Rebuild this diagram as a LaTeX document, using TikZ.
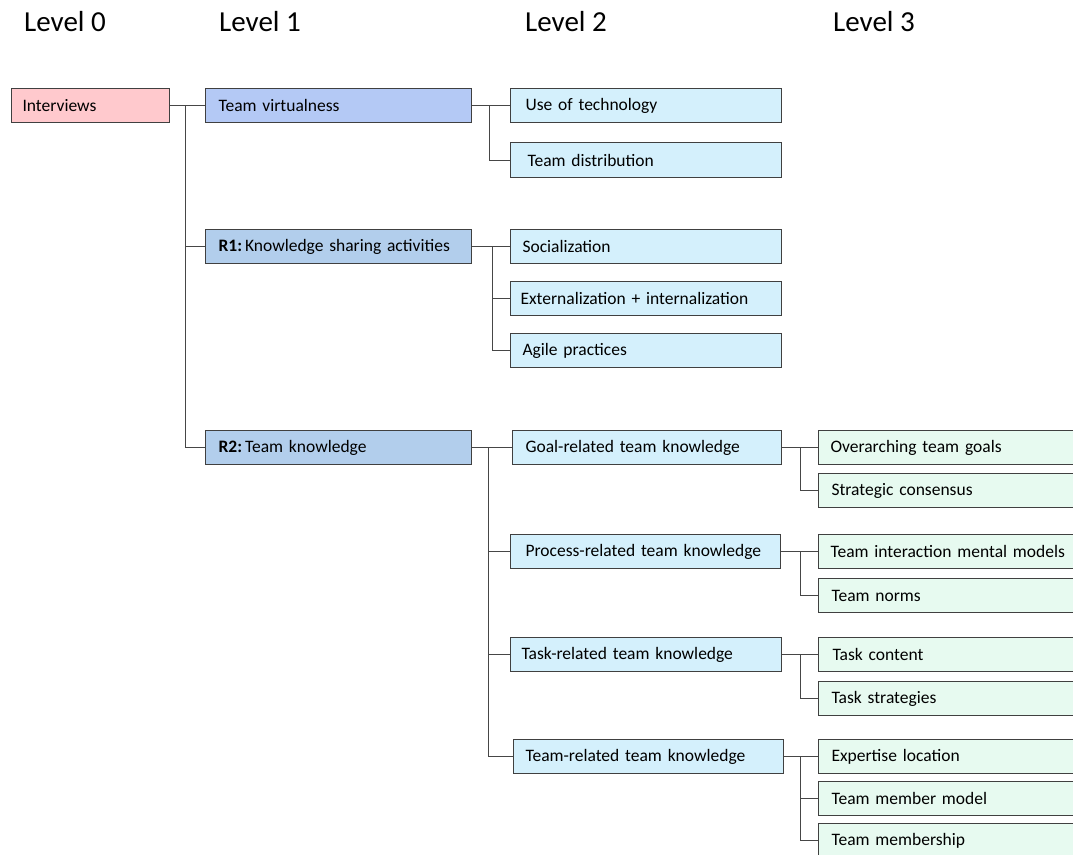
\documentclass[tikz,border=0pt]{standalone}
\usepackage{fontspec}
\setmainfont{Carlito}
\definecolor{rootfill}{RGB}{255,201,205}
\definecolor{tvfill}{RGB}{180,201,245}
\definecolor{rfill}{RGB}{178,206,236}
\definecolor{lvtwo}{RGB}{212,240,252}
\definecolor{lvthree}{RGB}{231,250,240}
\definecolor{edge}{RGB}{64,64,64}
\definecolor{wire}{RGB}{70,70,70}
\tikzset{
  box/.style={draw=edge, line width=1.1pt, font=\fontsize{17.5}{20}\selectfont,
              inner ysep=0pt, align=left},
  root/.style={box, fill=rootfill},
  tvbox/.style={box, fill=tvfill},
  rbox/.style={box, fill=rfill},
  ltwo/.style={box, fill=lvtwo},
  lthree/.style={box, fill=lvthree},
  conn/.style={draw=wire, line width=1.1pt},
  head/.style={anchor=west, inner sep=0pt, font=\fontsize{29}{32}\selectfont}
}
% \bx{name}{style}{x1}{y1}{x2}{y2}{text offset}{text}  (pixel-like units, y downwards)
\newcommand\bx[8]{%
  \pgfmathsetmacro\bxw{#5-#3}%
  \pgfmathsetmacro\bxh{#6-#4}%
  \pgfmathsetmacro\bxt{#5-#3-2*#7}%
  \node[#2, anchor=north west, minimum width=\bxw pt, minimum height=\bxh pt,
        inner xsep=#7pt, text width=\bxt pt] (#1) at (#3pt,-#4pt) {#8};}
\begin{document}
\begin{tikzpicture}
\path[use as bounding box] (0,0) rectangle (1073pt,-854pt);
\clip (0,0) rectangle (1073pt,-854pt);

% column headings
\node[head] (h0) at (24pt,-22pt) {Level 0};
\node[head] (h1) at (219pt,-22pt) {Level 1};
\node[head] (h2) at (525pt,-22pt) {Level 2};
\node[head] (h3) at (833pt,-22pt) {Level 3};

% level 0
\bx{int}{root}{11}{88}{169}{122}{11}{Interviews}

% level 1
\bx{tv}{tvbox}{205}{88}{471}{122}{13}{Team virtualness}
\bx{ra}{rbox}{205}{229}{471}{263}{13}{\textbf{R1:}\hspace{3pt}Knowledge sharing activities}
\bx{rb}{rbox}{205}{430}{471}{464}{13}{\textbf{R2:}\hspace{3pt}Team knowledge}

% level 2
\bx{tech}{ltwo}{510}{88}{781}{122}{15}{Use of technology}
\bx{dist}{ltwo}{510}{142}{781}{177}{17}{Team distribution}
\bx{soc}{ltwo}{510}{229}{781}{263}{12}{Socialization}
\bx{ext}{ltwo}{510}{281}{781}{315}{10}{Externalization + internalization}
\bx{agi}{ltwo}{510}{333}{781}{367}{12}{Agile practices}
\bx{goal}{ltwo}{512}{430}{781}{464}{13}{Goal-related team knowledge}
\bx{proc}{ltwo}{510}{534}{780}{568}{15}{Process-related team knowledge}
\bx{task}{ltwo}{510}{637}{781}{671}{11}{Task-related team knowledge}
\bx{team}{ltwo}{513}{739}{783}{773}{12}{Team-related team knowledge}

% level 3
\bx{over}{lthree}{818}{430}{1082}{464}{12}{Overarching team goals}
\bx{cons}{lthree}{818}{473}{1082}{507}{13}{Strategic consensus}
\bx{inter}{lthree}{818}{534}{1082}{568}{12}{Team interaction mental models}
\bx{norms}{lthree}{818}{578}{1082}{612}{13}{Team norms}
\bx{cont}{lthree}{818}{637}{1082}{671}{14}{Task content}
\bx{strat}{lthree}{818}{681}{1082}{715}{13}{Task strategies}
\bx{loc}{lthree}{818}{739}{1082}{773}{13}{Expertise location}
\bx{memm}{lthree}{818}{781}{1082}{815}{13}{Team member model}
\bx{ship}{lthree}{818}{823}{1082}{857}{13}{Team membership}

% connectors level 0 -> 1
\draw[conn] (int.east) -- (tv.west);
\draw[conn] (int.east) -- ++(15pt,0) |- (ra.west);
\draw[conn] (int.east) -- ++(15pt,0) |- (rb.west);

% connectors level 1 -> 2
\draw[conn] (tv.east) -- (tech.west);
\draw[conn] (tv.east) -- ++(17pt,0) |- (dist.west);
\draw[conn] (ra.east) -- (soc.west);
\draw[conn] (ra.east) -- ++(20pt,0) |- (ext.west);
\draw[conn] (ra.east) -- ++(20pt,0) |- (agi.west);
\draw[conn] (rb.east) -- (goal.west);
\draw[conn] (rb.east) -- ++(16pt,0) |- (proc.west);
\draw[conn] (rb.east) -- ++(16pt,0) |- (task.west);
\draw[conn] (rb.east) -- ++(16pt,0) |- (team.west);

% connectors level 2 -> 3
\draw[conn] (goal.east) -- (over.west);
\draw[conn] (goal.east) -- ++(18pt,0) |- (cons.west);
\draw[conn] (proc.east) -- (inter.west);
\draw[conn] (proc.east) -- ++(19pt,0) |- (norms.west);
\draw[conn] (task.east) -- (cont.west);
\draw[conn] (task.east) -- ++(18pt,0) |- (strat.west);
\draw[conn] (team.east) -- (loc.west);
\draw[conn] (team.east) -- ++(16pt,0) |- (memm.west);
\draw[conn] (team.east) -- ++(16pt,0) |- (ship.west);
\end{tikzpicture}
\end{document}
